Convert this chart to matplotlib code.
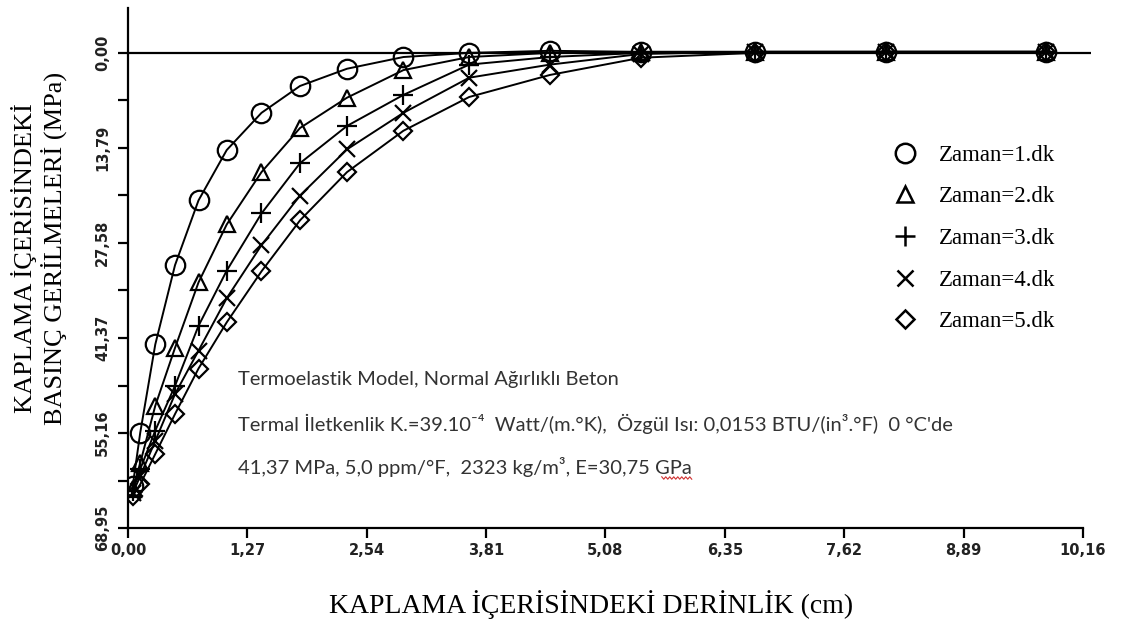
import numpy as np
import matplotlib
matplotlib.use("Agg")
import matplotlib.pyplot as plt
from matplotlib.lines import Line2D

# depth columns (cm) where the curves were sampled
depth = [0.05, 0.13, 0.29, 0.50, 0.75, 1.05, 1.42, 1.83, 2.33, 2.93, 3.63, 4.49, 5.46, 6.67, 8.07, 9.77]

# compressive stress (MPa)
zaman1 = [62.8, 55.1, 42.3, 30.8, 21.4, 14.1, 8.7, 4.8, 2.3, 0.6, 0.0, -0.3, -0.15, -0.15, -0.15, -0.15]
zaman2 = [63.3, 59.5, 51.2, 42.8, 33.3, 24.9, 17.3, 10.9, 6.5, 2.5, 0.6, 0.0, -0.15, -0.15, -0.15, -0.15]
zaman3 = [63.6, 60.4, 54.8, 48.3, 39.6, 31.6, 23.3, 16.0, 10.6, 6.1, 1.7, 0.6, 0.0, -0.15, -0.15, -0.15]
zaman4 = [63.9, 61.4, 56.3, 49.5, 43.2, 35.6, 27.9, 20.7, 14.0, 8.7, 3.6, 1.7, 0.15, -0.15, -0.15, -0.15]
zaman5 = [64.3, 62.6, 58.2, 52.4, 45.8, 39.1, 31.7, 24.3, 17.3, 11.3, 6.4, 3.2, 0.7, 0.0, -0.15, -0.15]

series = [zaman1, zaman2, zaman3, zaman4, zaman5]
labels = ["Zaman=1.dk", "Zaman=2.dk", "Zaman=3.dk", "Zaman=4.dk", "Zaman=5.dk"]
markers = ["o", "^", "+", "x", "D"]
msizes = [14, 11, 14, 12, 9]

xticks = [0, 1.27, 2.54, 3.81, 5.08, 6.35, 7.62, 8.89, 10.16]
xticklabels = ["0,00", "1,27", "2,54", "3,81", "5,08", "6,35", "7,62", "8,89", "10,16"]
yticks = [0, 13.79, 27.58, 41.37, 55.16, 68.95]
yticklabels = ["0,00", "13,79", "27,58", "41,37", "55,16", "68,95"]

fig = plt.figure(figsize=(11.28, 6.22), dpi=100)
ax = fig.add_axes([0.1135, 0.151, 0.854, 0.836])

ax.axhline(0, color="black", lw=1.6, zorder=1)

for vals, m, ms in zip(series, markers, msizes):
    ax.plot(depth, vals, color="black", lw=1.4, marker=m, ms=ms,
            mfc="none", mec="black", mew=1.6, zorder=3)

ax.set_xlim(0, 10.25)
ax.set_ylim(68.95, -6.5)

ax.spines["top"].set_visible(False)
ax.spines["right"].set_visible(False)
ax.spines["bottom"].set_bounds(0, 10.16)
ax.spines["left"].set_linewidth(1.6)
ax.spines["bottom"].set_linewidth(1.6)

ax.set_xticks(xticks)
ax.set_xticklabels(xticklabels, fontsize=10.5, fontweight="bold", color="#222222")
ax.set_yticks(yticks)
ax.set_yticklabels(yticklabels, fontsize=10.5, fontweight="bold", color="#222222",
                   rotation=90, va="center")
ax.set_yticks([6.895, 20.685, 34.475, 48.265, 62.055], minor=True)
ax.tick_params(axis="both", which="both", direction="out", length=7, width=1.6)
ax.tick_params(axis="x", pad=4)
ax.tick_params(axis="y", pad=6)

serif = ["Liberation Serif", "DejaVu Serif"]
fig.text(24 / 1128, 1 - 258 / 622, "KAPLAMA İÇERİSİNDEKİ", rotation=90, ha="center", va="center",
         fontsize=19, family=serif)
fig.text(54 / 1128, 1 - 248 / 622, "BASINÇ GERİLMELERİ (MPa)", rotation=90, ha="center", va="center",
         fontsize=19, family=serif)
fig.text(591 / 1128, 1 - 605 / 622, "KAPLAMA İÇERİSİNDEKİ DERİNLİK (cm)", ha="center", va="center",
         fontsize=20, family=serif)

handles = [Line2D([], [], ls="none", marker=m, ms=ms, mfc="none", mec="black", mew=1.8)
           for m, ms in zip(markers, msizes)]
leg = fig.legend(handles, labels, loc="upper left", bbox_to_anchor=(0.782, 0.786),
                 frameon=False, prop={"family": serif, "size": 16.5},
                 handlelength=1.0, handletextpad=1.0, labelspacing=0.9, borderpad=0)

sans = ["Lato", "DejaVu Sans"]
note = ["Termoelastik Model, Normal Ağırlıklı Beton",
        "Termal İletkenlik K.=39.10⁻⁴  Watt/(m.°K),  Özgül Isı: 0,0153 BTU/(in³.°F)  0 °C'de",
        "41,37 MPa, 5,0 ppm/°F,  2323 kg/m³, E=30,75 GPa"]
texts = []
for i, line in enumerate(note):
    t = fig.text(238 / 1128, 1 - (380 + 43.5 * i) / 622, line, ha="left", va="center",
                 fontsize=14.5, family=sans, color="#333333")
    texts.append(t)

# red spell-check squiggle under "GPa"
renderer = fig.canvas.get_renderer()
bb = texts[2].get_window_extent(renderer)
xs = np.linspace(bb.x1 - 30, bb.x1, 16)
ys = bb.y0 - 1 + 1.2 * np.array([(-1) ** k for k in range(16)])
fig.add_artist(Line2D(xs / 1128, ys / 622, color="#d03030", lw=0.8, transform=fig.transFigure))

fig.savefig("out.png", dpi=100)
